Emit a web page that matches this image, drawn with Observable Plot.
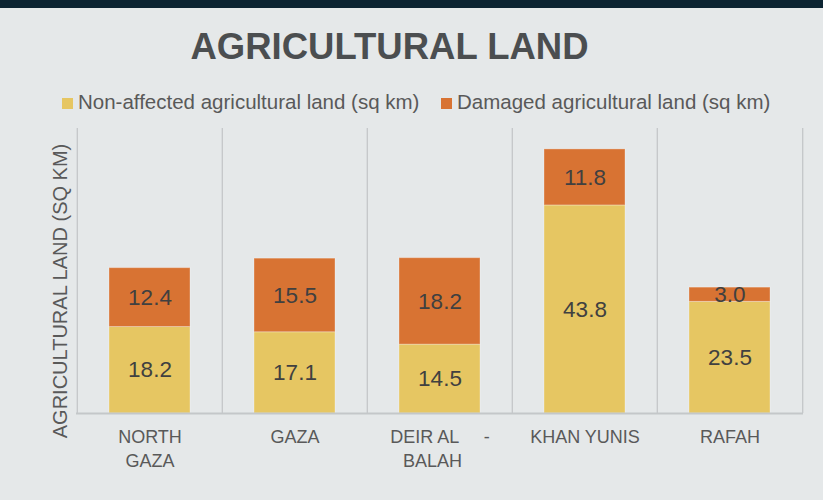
<!DOCTYPE html>
<html><head><meta charset="utf-8">
<script src="https://cdn.jsdelivr.net/npm/d3@7"></script>
<script src="https://cdn.jsdelivr.net/npm/@observablehq/plot@0.6"></script>
<style>
body{margin:0;background:#e5e8e9;font-family:"Liberation Sans",Arial,sans-serif;}
#wrap{position:relative;width:823px;height:500px;overflow:hidden;background:#e5e8e9;}
#topbar{position:absolute;left:0;top:0;width:823px;height:8px;background:#0c2432;}
#title{position:absolute;left:0;width:779px;top:29px;text-align:center;font-weight:bold;font-size:36.5px;line-height:36.5px;color:#4b4e50;white-space:nowrap;}
.leg{position:absolute;top:92px;font-size:20.5px;line-height:20.5px;color:#595959;white-space:nowrap;}
.sw{position:absolute;top:97.5px;width:11px;height:11px;}
#chart{position:absolute;left:0;top:0;}
svg text{white-space:pre;}
</style></head>
<body>
<div id="wrap">
  <div id="topbar"></div>
  <div id="title"></div>
  <div id="legend"></div>
  <div id="chart"></div>
</div>
<script>
const chartTitle = "AGRICULTURAL LAND";
const categories = ["North Gaza", "Gaza", "Deir al-Balah", "Khan Yunis", "Rafah"];
const tickLabels = ["NORTH\nGAZA", "GAZA", "DEIR AL     -\nBALAH   ", "KHAN YUNIS", "RAFAH"];
const series = ["Non-affected agricultural land (sq km)", "Damaged agricultural land (sq km)"];
const nonAffected = [18.2, 17.1, 14.5, 43.8, 23.5];
const damaged = [12.4, 15.5, 18.2, 11.8, 3.0];
const yAxisLabel = "AGRICULTURAL LAND (SQ KM)";
const colors = ["#e6c662", "#d87333"];

const data = categories.flatMap((c, i) => [
  {cat: c, series: series[0], value: nonAffected[i]},
  {cat: c, series: series[1], value: damaged[i]}
]);

document.getElementById("title").textContent = chartTitle;
const legendPos = [{sw: 62, tx: 78}, {sw: 441, tx: 457}];
const legend = document.getElementById("legend");
series.forEach((s, i) => {
  const sw = document.createElement("div");
  sw.className = "sw"; sw.style.left = legendPos[i].sw + "px"; sw.style.background = colors[i];
  const t = document.createElement("div");
  t.className = "leg"; t.style.left = legendPos[i].tx + "px"; t.textContent = s;
  legend.appendChild(sw); legend.appendChild(t);
});

const W = 823, H = 500, mL = 76, mR = 20, mT = 128, mB = 87;
const step = (W - mL - mR) / categories.length;
const grid = "#c4c7c9";

const chart = Plot.plot({
  width: W, height: H,
  marginLeft: mL, marginRight: mR, marginTop: mT, marginBottom: mB,
  x: {domain: categories, paddingInner: 0.44, paddingOuter: 0.22, axis: null},
  y: {domain: [0, 60], axis: null},
  color: {domain: series, range: colors},
  style: {background: "transparent", fontFamily: "'Liberation Sans', Arial, sans-serif", overflow: "visible"},
  marks: [
    Plot.ruleX(categories, {x: d => d, dx: -step / 2, stroke: grid, strokeWidth: 1.3}),
    Plot.ruleX(categories.slice(-1), {x: d => d, dx: step / 2, stroke: grid, strokeWidth: 1.3}),
    Plot.barY(data, {x: "cat", y: "value", fill: "series", stroke: "#ffffff", strokeOpacity: 0.3, strokeWidth: 1}),
    Plot.ruleY([0], {stroke: grid, strokeWidth: 2}),
    Plot.text(data, Plot.stackY({x: "cat", y: "value", z: "series", text: d => d.value.toFixed(1), fontSize: 22.5, fill: "#404040"})),
    Plot.text(categories, {x: d => d, text: (d, i) => tickLabels[i], frameAnchor: "bottom", lineAnchor: "top", dy: 13, lineHeight: 1.33, fontSize: 18, fill: "#595959"}),
    Plot.text([yAxisLabel], {frameAnchor: "left", textAnchor: "middle", rotate: -90, dx: -16, dy: 20, fontSize: 20, fill: "#595959"})
  ]
});
document.getElementById("chart").appendChild(chart);
</script>
</body></html>
